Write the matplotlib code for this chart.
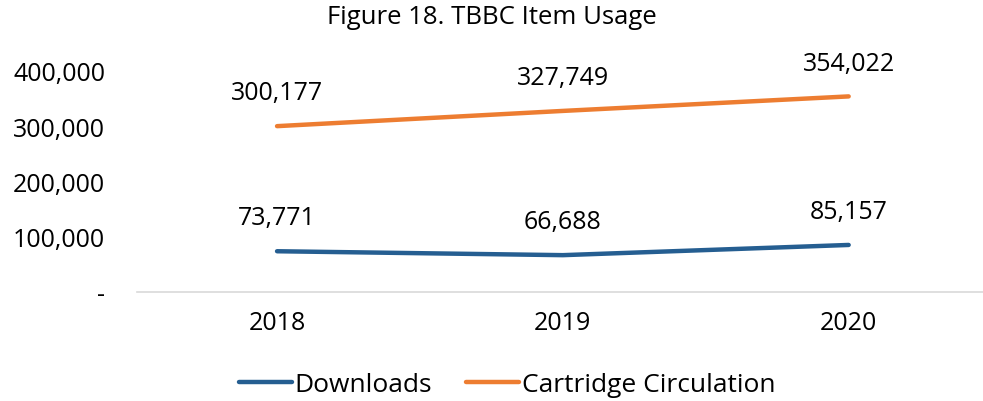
import matplotlib
matplotlib.use("Agg")
import matplotlib.pyplot as plt
from matplotlib.ticker import FuncFormatter

plt.rcParams["font.family"] = ["Open Sans", "DejaVu Sans"]

anos = ["2018", "2019", "2020"]
downloads = [73771, 66688, 85157]
cartuchos = [300177, 327749, 354022]
series = [("Downloads", downloads, "#255E91"),
          ("Cartridge Circulation", cartuchos, "#ED7D31")]


def fmt(v, pos=None):
    if v == 0:
        return "-"
    return f"{int(v):,}"


fig = plt.figure(figsize=(9.83, 4.02), dpi=100)
ax = fig.add_axes([137 / 983, 109 / 402, 846 / 983, 221 / 402])

x = list(range(len(anos)))
for nome, vals, cor in series:
    ax.plot(x, vals, color=cor, lw=3.2, solid_capstyle="round", label=nome)
    for xi, v in zip(x, vals):
        ax.annotate(f"{v:,}", (xi, v), xytext=(0, 24), textcoords="offset points",
                    ha="center", va="center", fontsize=18, color="#000000",
                    annotation_clip=False)

ax.set_xlim(-0.49, 2.47)
ax.set_ylim(0, 400000)
ax.set_yticks([0, 100000, 200000, 300000, 400000])
ax.yaxis.set_major_formatter(FuncFormatter(fmt))
ax.set_xticks(x)
ax.set_xticklabels(anos)
ax.tick_params(axis="both", length=0, labelsize=18, colors="#000000")
ax.tick_params(axis="y", pad=23)
ax.tick_params(axis="x", pad=13)
for s in ["top", "right", "left"]:
    ax.spines[s].set_visible(False)
ax.spines["bottom"].set_color("#D9D9D9")
ax.spines["bottom"].set_linewidth(1.2)

fig.text(0.5, 1 - 18 / 402, "Figure 18. TBBC Item Usage", ha="center", va="center",
         fontsize=18.5, color="#000000")

fig.legend(loc="center", bbox_to_anchor=(0.516, 1 - 386 / 402), ncol=2, frameon=False,
           fontsize=19, handlelength=2.0, handletextpad=0.1, columnspacing=1.3)

fig.savefig("out.png", dpi=100)
plt.close(fig)
